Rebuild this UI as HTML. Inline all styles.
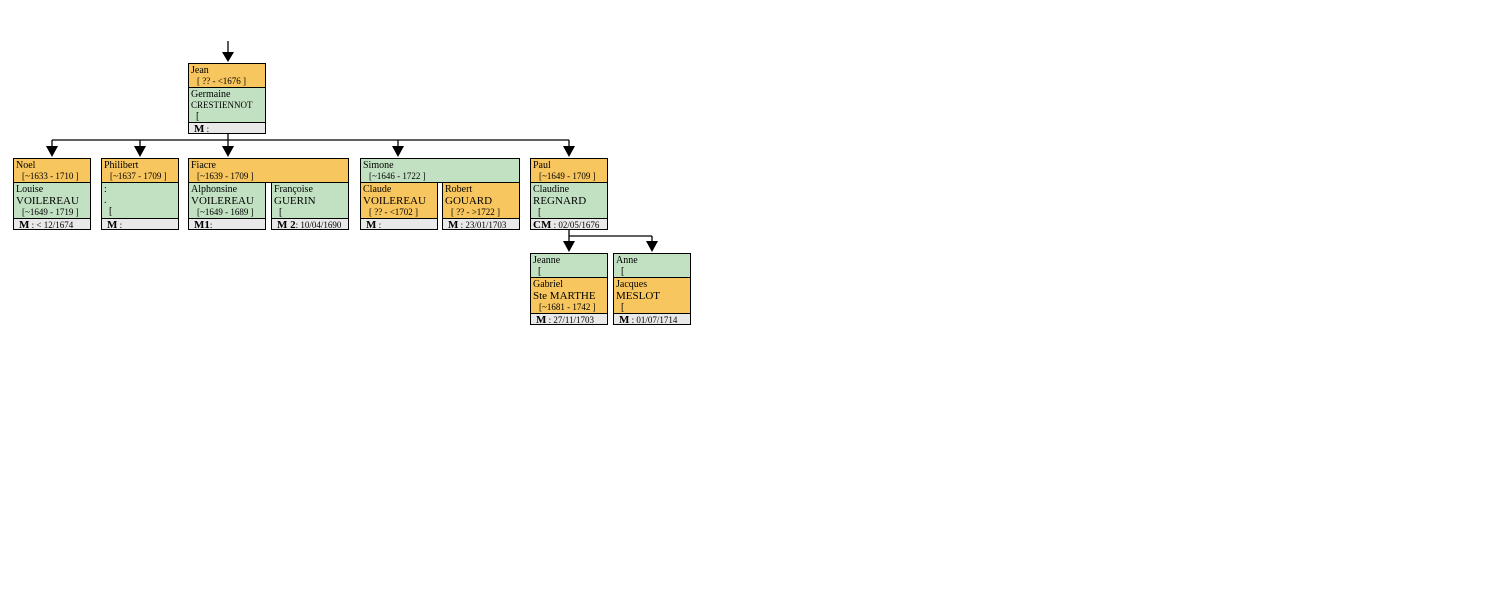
<!DOCTYPE html>
<html><head><meta charset="utf-8"><style>
body{margin:0;width:1500px;height:600px;background:#fff;position:relative;overflow:hidden;font-family:"Liberation Serif",serif;}
.b{position:absolute;border:1px solid #000;box-sizing:border-box;font-size:10px;line-height:11px;padding:1px 0 0 2px;color:#000;white-space:nowrap;overflow:hidden}
.o{background:#f8c65e}.g{background:#c2e1c2}.m{background:#e9e9e9;font-size:9px;line-height:10px;padding-left:5px}
.m b{font-size:11px}
.s{font-size:11px;line-height:12px}
.d{padding-left:6px;font-size:9px}
.l{position:absolute;background:#000}
svg{position:absolute;left:0;top:0}
</style></head><body>
<svg width="1500" height="600">
<g stroke="#000" stroke-width="1.3" fill="none">
<line x1="228" y1="41" x2="228" y2="55"/>
<line x1="228" y1="133" x2="228" y2="140"/>
<line x1="52" y1="140" x2="569" y2="140"/>
<line x1="52" y1="140" x2="52" y2="148"/>
<line x1="140" y1="140" x2="140" y2="148"/>
<line x1="228" y1="140" x2="228" y2="148"/>
<line x1="398" y1="140" x2="398" y2="148"/>
<line x1="569" y1="140" x2="569" y2="148"/>
<line x1="569" y1="230" x2="569" y2="243"/>
<line x1="569" y1="236" x2="652" y2="236"/>
<line x1="652" y1="236" x2="652" y2="243"/>
</g>
<g fill="#000">
<polygon points="222,52 234,52 228,62"/>
<polygon points="46,146 58,146 52,157"/>
<polygon points="134,146 146,146 140,157"/>
<polygon points="222,146 234,146 228,157"/>
<polygon points="392,146 404,146 398,157"/>
<polygon points="563,146 575,146 569,157"/>
<polygon points="563,241 575,241 569,252"/>
<polygon points="646,241 658,241 652,252"/>
</g>
</svg>

<!-- Jean -->
<div class="b o" style="left:188px;top:63px;width:78px;height:25px">Jean<br><span class="d">[ ?? - &lt;1676 ]</span></div>
<div class="b g" style="left:188px;top:87px;width:78px;height:36px">Germaine<br><span style="font-size:9px">CRESTIENNOT</span><br>&nbsp;&nbsp;[</div>
<div class="b m" style="left:188px;top:122px;width:78px;height:12px"><b>M</b> :</div>

<!-- Noel -->
<div class="b o" style="left:13px;top:158px;width:78px;height:25px">Noel<br><span class="d">[~1633 - 1710 ]</span></div>
<div class="b g" style="left:13px;top:182px;width:78px;height:37px">Louise<br><span class="s">VOILEREAU</span><br><span class="d">[~1649 - 1719 ]</span></div>
<div class="b m" style="left:13px;top:218px;width:78px;height:12px"><b>M</b> : &lt; 12/1674</div>

<!-- Philibert -->
<div class="b o" style="left:101px;top:158px;width:78px;height:25px">Philibert<br><span class="d">[~1637 - 1709 ]</span></div>
<div class="b g" style="left:101px;top:182px;width:78px;height:37px">:<br>.<br>&nbsp;&nbsp;[</div>
<div class="b m" style="left:101px;top:218px;width:78px;height:12px"><b>M</b> :</div>

<!-- Fiacre -->
<div class="b o" style="left:188px;top:158px;width:161px;height:25px">Fiacre<br><span class="d">[~1639 - 1709 ]</span></div>
<div class="b g" style="left:188px;top:182px;width:78px;height:37px">Alphonsine<br><span class="s">VOILEREAU</span><br><span class="d">[~1649 - 1689 ]</span></div>
<div class="b m" style="left:188px;top:218px;width:78px;height:12px"><b>M1</b>:</div>
<div class="b g" style="left:271px;top:182px;width:78px;height:37px">Françoise<br><span class="s">GUERIN</span><br>&nbsp;&nbsp;[</div>
<div class="b m" style="left:271px;top:218px;width:78px;height:12px"><b>M 2</b>: 10/04/1690</div>

<!-- Simone -->
<div class="b g" style="left:360px;top:158px;width:160px;height:25px">Simone<br><span class="d">[~1646 - 1722 ]</span></div>
<div class="b o" style="left:360px;top:182px;width:78px;height:37px">Claude<br><span class="s">VOILEREAU</span><br><span class="d">[ ?? - &lt;1702 ]</span></div>
<div class="b m" style="left:360px;top:218px;width:78px;height:12px"><b>M</b> :</div>
<div class="b o" style="left:442px;top:182px;width:78px;height:37px">Robert<br><span class="s">GOUARD</span><br><span class="d">[ ?? - &gt;1722 ]</span></div>
<div class="b m" style="left:442px;top:218px;width:78px;height:12px"><b>M</b> : 23/01/1703</div>

<!-- Paul -->
<div class="b o" style="left:530px;top:158px;width:78px;height:25px">Paul<br><span class="d">[~1649 - 1709 ]</span></div>
<div class="b g" style="left:530px;top:182px;width:78px;height:37px">Claudine<br><span class="s">REGNARD</span><br>&nbsp;&nbsp;[</div>
<div class="b m" style="left:530px;top:218px;width:78px;height:12px;padding-left:2px"><b>CM</b> : 02/05/1676</div>

<!-- Jeanne -->
<div class="b g" style="left:530px;top:253px;width:78px;height:25px">Jeanne<br>&nbsp;&nbsp;[</div>
<div class="b o" style="left:530px;top:277px;width:78px;height:37px">Gabriel<br><span class="s">Ste MARTHE</span><br><span class="d">[~1681 - 1742 ]</span></div>
<div class="b m" style="left:530px;top:313px;width:78px;height:12px"><b>M</b> : 27/11/1703</div>

<!-- Anne -->
<div class="b g" style="left:613px;top:253px;width:78px;height:25px">Anne<br>&nbsp;&nbsp;[</div>
<div class="b o" style="left:613px;top:277px;width:78px;height:37px">Jacques<br><span class="s">MESLOT</span><br>&nbsp;&nbsp;[</div>
<div class="b m" style="left:613px;top:313px;width:78px;height:12px"><b>M</b> : 01/07/1714</div>
</body></html>
